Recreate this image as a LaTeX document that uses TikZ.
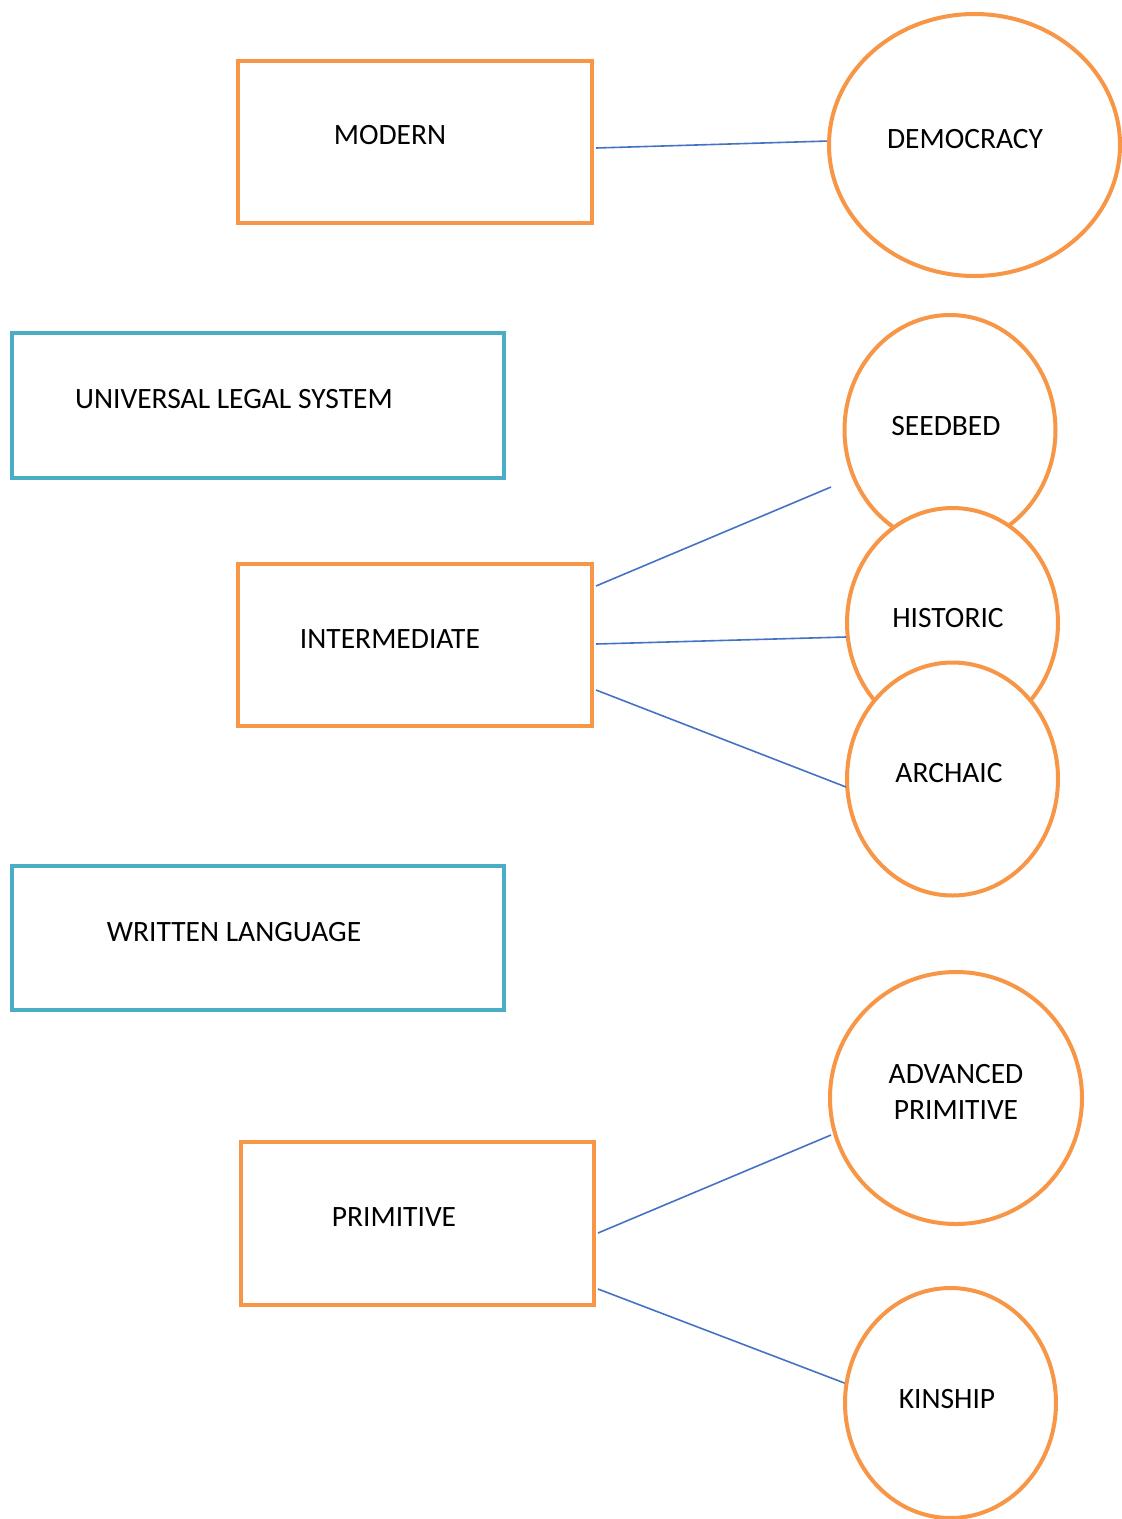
\documentclass[tikz,border=0pt]{standalone}
\usepackage{fontspec}
\setmainfont{Carlito}
\usetikzlibrary{shapes.geometric}
\definecolor{orng}{HTML}{F79646}
\definecolor{teal2}{HTML}{4BACC6}
\definecolor{lnblue}{HTML}{4472C4}
\begin{document}
\begin{tikzpicture}[x=1pt,y=-1pt,
  obox/.style={draw=orng,line width=4pt,fill=white,rectangle,inner sep=0pt},
  tbox/.style={draw=teal2,line width=4pt,fill=white,rectangle,inner sep=0pt},
  oell/.style={draw=orng,line width=4pt,fill=white,ellipse,inner sep=0pt},
  lbl/.style={font=\fontsize{29.5}{36}\selectfont,align=center,inner sep=0pt},
  conn/.style={draw=lnblue,line width=1.6pt}]
\useasboundingbox (0,0) rectangle (1122,1519);
% boxes
\node[obox,minimum width=354pt,minimum height=162pt] (modern) at (415,142) {};
\node[tbox,minimum width=492pt,minimum height=145pt] (universal) at (258,405.5) {};
\node[obox,minimum width=354pt,minimum height=162pt] (intermediate) at (415,645) {};
\node[tbox,minimum width=492pt,minimum height=144pt] (written) at (258,938) {};
\node[obox,minimum width=353pt,minimum height=163pt] (primitive) at (417.5,1223.5) {};
% free ends
\coordinate (seedend) at (831,487);
\coordinate (advend) at (831,1135);
% connectors (drawn before circles)
\path[conn] ([shift={(2,6)}]modern.east) -- (829,141) coordinate (demend);
\path[conn] ([shift={(2,-59)}]intermediate.east) -- (seedend);
\path[conn] ([shift={(2,65.5)}]primitive.east) -- (847,1384) coordinate (kinend);
\path[conn] ([shift={(2,9.5)}]primitive.east) -- (advend);
% ellipses
\node[oell,minimum width=291pt,minimum height=262pt] (democracy) at (974.5,145) {};
\node[oell,minimum width=211pt,minimum height=230pt] (seedbed) at (950,430) {};
\node[oell,minimum width=211pt,minimum height=230pt] (historic) at (952.5,623) {};
\node[oell,minimum width=211pt,minimum height=233pt] (archaic) at (952.5,779) {};
\node[oell,minimum width=252pt,minimum height=252pt] (advanced) at (956,1098) {};
\node[oell,minimum width=211pt,minimum height=230pt] (kinship) at (950.5,1403) {};
% connectors to circle borders
\path[conn] ([shift={(2,-1)}]intermediate.east) -- ([shift={(1,14)}]historic.west);
\path[conn] ([shift={(2,45)}]intermediate.east) -- ([shift={(1,8)}]archaic.west);
% labels
\node[lbl] (tmodern) at (390,135) {MODERN};
\node[lbl] (tdemocracy) at (965,139) {DEMOCRACY};
\node[lbl] (tuniversal) at (234,399) {UNIVERSAL LEGAL SYSTEM};
\node[lbl] (tseedbed) at (946,426) {SEEDBED};
\node[lbl] (thistoric) at (948,618) {HISTORIC};
\node[lbl] (tintermediate) at (390,639) {INTERMEDIATE};
\node[lbl] (tarchaic) at (949,773) {ARCHAIC};
\node[lbl] (twritten) at (234,932) {WRITTEN LANGUAGE};
\node[lbl] (tadvanced) at (956,1092) {ADVANCED\\PRIMITIVE};
\node[lbl] (tprimitive) at (394,1217) {PRIMITIVE};
\node[lbl] (tkinship) at (947,1399) {KINSHIP};
\end{tikzpicture}
\end{document}
